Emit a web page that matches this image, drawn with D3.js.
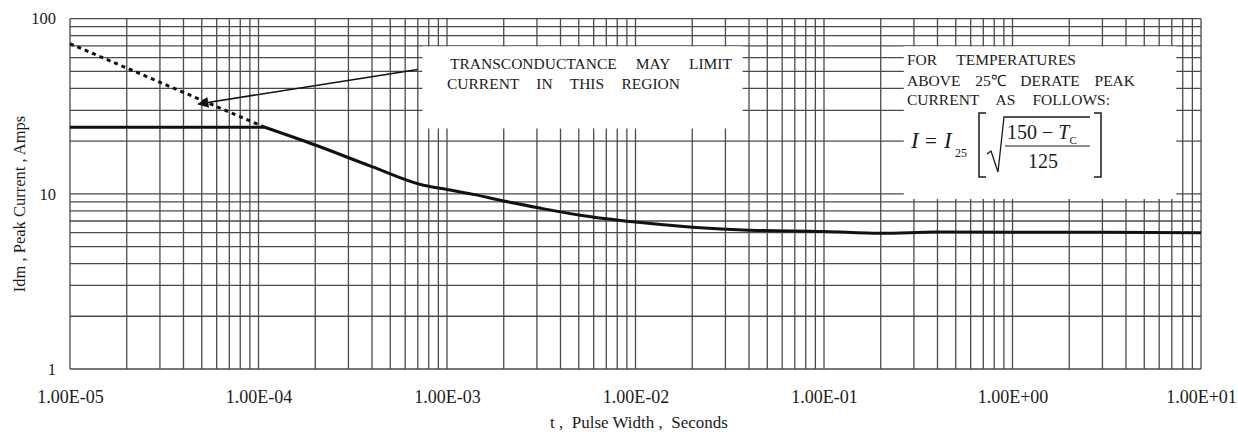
<!DOCTYPE html>
<html>
<head>
<meta charset="utf-8">
<script src="https://cdn.jsdelivr.net/npm/d3@7"></script>
<style>
  body { margin: 0; background: #fff; }
  svg { display: block; }
  text { font-family: "Liberation Serif", "Times New Roman", serif; fill: #1a1a1a; }
</style>
</head>
<body>
<svg id="chart" width="1238" height="432"></svg>
<script>
// Maximum peak current versus pulse width
const pulseWidth  = [1e-5, 1.08e-4, 2.0e-4, 4.0e-4, 7.5e-4, 1.0e-3, 1.4e-3, 2.0e-3, 3.1e-3, 5.1e-3, 1.0e-2, 2.0e-2, 4.0e-2, 1.0e-1, 2.0e-1, 4.0e-1, 1e1];
const peakCurrent = [24, 24, 19.0, 14.3, 11.2, 10.6, 9.9, 9.1, 8.3, 7.55, 6.9, 6.45, 6.2, 6.1, 5.95, 6.05, 6.0];

// Transconductance-limited extension (dashed)
const limitWidth   = [1e-5, 1.08e-4];
const limitCurrent = [72, 24];

// Axis ticks and labels
const xTicks = [1e-5, 1e-4, 1e-3, 1e-2, 1e-1, 1e0, 1e1];
const xTickLabels = ["1.00E-05", "1.00E-04", "1.00E-03", "1.00E-02", "1.00E-01", "1.00E+00", "1.00E+01"];
const yTicks = [1, 10, 100];
const yTickLabels = ["1", "10", "100"];

const svg = d3.select("#chart");
const margin = { left: 70, right: 37, top: 18.7, bottom: 63 };
const W = 1238, H = 432;

const x = d3.scaleLog().domain([1e-5, 1e1]).range([margin.left, W - margin.right]);
const y = d3.scaleLog().domain([1, 100]).range([H - margin.bottom, margin.top]);

// Log grid (1..9 in every decade)
const grid = svg.append("g").attr("stroke", "#4a4a4a").attr("stroke-width", 1.3);
grid.selectAll("line.v").data(x.ticks()).join("line")
  .attr("class", "v")
  .attr("x1", d => x(d)).attr("x2", d => x(d))
  .attr("y1", y(1)).attr("y2", y(100));
grid.selectAll("line.h").data(y.ticks()).join("line")
  .attr("class", "h")
  .attr("x1", x(1e-5)).attr("x2", x(1e1))
  .attr("y1", d => y(d)).attr("y2", d => y(d));

// White note panels that blank out the grid
const panels = [
  { t0: 7.4e-4, t1: 3.7e-2, i0: 69.5, i1: 23.6 },
  { t0: 0.265, t1: 7.4, i0: 69.5, i1: 9.35 }
];
svg.append("g").selectAll("rect").data(panels).join("rect")
  .attr("x", d => x(d.t0)).attr("width", d => x(d.t1) - x(d.t0))
  .attr("y", d => y(d.i0)).attr("height", d => y(d.i1) - y(d.i0))
  .attr("fill", "#fff");

// Axis labels
const axisX = d3.axisBottom(x).tickValues(xTicks).tickFormat((d, i) => xTickLabels[i]).tickSize(0).tickPadding(21);
svg.append("g").attr("transform", `translate(0,${y(1)})`).call(axisX)
  .call(g => g.select(".domain").remove())
  .selectAll("text").attr("font-size", 18).attr("font-family", "Liberation Serif").attr("fill", "#1a1a1a");

const axisY = d3.axisLeft(y).tickValues(yTicks).tickFormat((d, i) => yTickLabels[i]).tickSize(0).tickPadding(14);
svg.append("g").attr("transform", `translate(${x(1e-5)},0)`).call(axisY)
  .call(g => g.select(".domain").remove())
  .selectAll("text").attr("font-size", 16.5).attr("font-family", "Liberation Serif").attr("fill", "#1a1a1a");

svg.append("text")
  .attr("x", 639).attr("y", 428).attr("text-anchor", "middle")
  .attr("font-size", 17).attr("xml:space", "preserve")
  .text("t ,  Pulse Width ,  Seconds");

svg.append("text")
  .attr("transform", "translate(25,204) rotate(-90)").attr("text-anchor", "middle")
  .attr("font-size", 16.5).attr("xml:space", "preserve")
  .text("Idm , Peak Current , Amps");

// Curves: flat current limit, then a smooth roll-off past the knee
const pts = d3.zip(pulseWidth, peakCurrent);
const line = d3.line().x(d => x(d[0])).y(d => y(d[1]));
const smooth = d3.line().curve(d3.curveMonotoneX).x(d => x(d[0])).y(d => y(d[1]));
svg.append("path")
  .datum(d3.zip(limitWidth, limitCurrent))
  .attr("d", line).attr("fill", "none")
  .attr("stroke", "#111").attr("stroke-width", 3).attr("stroke-dasharray", "4,4");
svg.append("path")
  .datum(pts.slice(0, 2))
  .attr("d", line)
  .attr("fill", "none").attr("stroke", "#111").attr("stroke-width", 3);
svg.append("path")
  .datum(pts.slice(1))
  .attr("d", smooth)
  .attr("fill", "none").attr("stroke", "#111").attr("stroke-width", 3).attr("stroke-linejoin", "round");

// Leader arrow from the note to the dashed region
svg.append("defs").append("marker")
  .attr("id", "head").attr("viewBox", "0 0 10 10").attr("refX", 9).attr("refY", 5)
  .attr("markerWidth", 13).attr("markerHeight", 11).attr("markerUnits", "userSpaceOnUse")
  .attr("orient", "auto")
  .append("path").attr("d", "M0,0 L10,5 L0,10 Z").attr("fill", "#111");
const arrowFrom = [7.0e-4, 51.3], arrowTo = [4.8e-5, 32.6];
svg.append("line")
  .attr("x1", x(arrowFrom[0])).attr("y1", y(arrowFrom[1]))
  .attr("x2", x(arrowTo[0])).attr("y2", y(arrowTo[1]))
  .attr("stroke", "#111").attr("stroke-width", 1.6).attr("marker-end", "url(#head)");

// Justified note text: widen word spacing until the line spans the given width
function noteLine(g, str, x0, yb, width, size) {
  const t = g.append("text").attr("x", x0).attr("y", yb).attr("font-size", size).text(str);
  const words = str.split(" ").length - 1;
  const natural = t.node().getComputedTextLength();
  if (words > 0 && width > natural) t.attr("word-spacing", (width - natural) / words);
  return t;
}
const notes = svg.append("g");
noteLine(notes, "TRANSCONDUCTANCE MAY LIMIT", 450, 69.3, 282, 15.5);
noteLine(notes, "CURRENT IN THIS REGION", 447, 89, 233, 15.5);
noteLine(notes, "FOR TEMPERATURES", 907, 65, 169, 15.5);
noteLine(notes, "ABOVE 25\u2103 DERATE PEAK", 907, 86, 228, 15.5);
noteLine(notes, "CURRENT AS FOLLOWS:", 907, 105, 203, 15.5);

// Derating formula  I = I25 [ sqrt((150 - Tc)/125) ]
const f = svg.append("g");
f.append("text").attr("x", 911).attr("y", 148).attr("font-size", 23).attr("font-style", "italic").text("I");
f.append("text").attr("x", 925).attr("y", 148).attr("font-size", 21).text("=");
f.append("text").attr("x", 944).attr("y", 148).attr("font-size", 23).attr("font-style", "italic").text("I");
f.append("text").attr("x", 955).attr("y", 157).attr("font-size", 12).text("25");
const num = f.append("text").attr("x", 1007).attr("y", 139).attr("font-size", 20).attr("xml:space", "preserve");
num.append("tspan").text("150 \u2212 ");
num.append("tspan").attr("font-style", "italic").text("T");
num.append("tspan").attr("font-size", 11).attr("dy", 5).text("C");
f.append("text").attr("x", 1043).attr("y", 168).attr("font-size", 20).attr("text-anchor", "middle").text("125");
f.append("line").attr("x1", 1005).attr("x2", 1090).attr("y1", 146).attr("y2", 146)
  .attr("stroke", "#1a1a1a").attr("stroke-width", 1.2);
// radical sign
f.append("path").attr("d", "M987,154 L991,151 L998,172 L1004,117 L1090,117")
  .attr("fill", "none").attr("stroke", "#1a1a1a").attr("stroke-width", 1.3).attr("stroke-linejoin", "miter");
// brackets
f.append("path").attr("d", "M986,113 L979,113 L979,177 L986,177 M1094,113 L1101,113 L1101,177 L1094,177")
  .attr("fill", "none").attr("stroke", "#1a1a1a").attr("stroke-width", 1.5);
</script>
</body>
</html>
